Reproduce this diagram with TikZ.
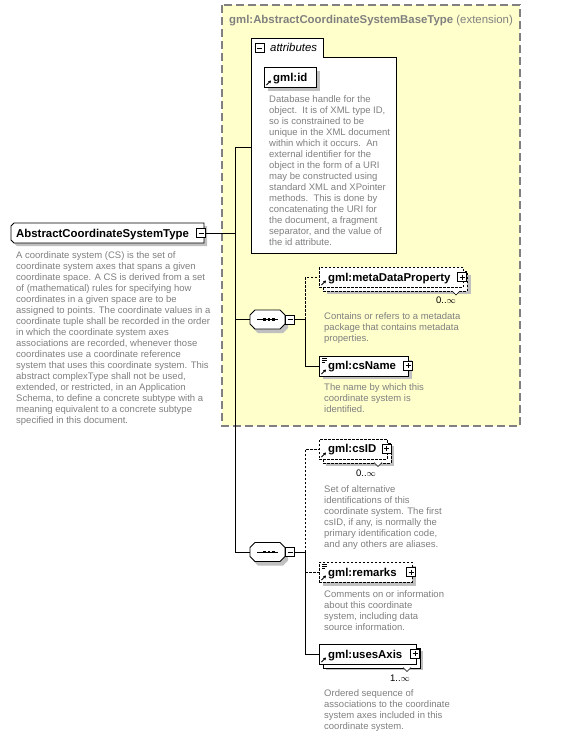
\documentclass[tikz,border=0pt]{standalone}
\usepackage{fontspec}
\setmainfont{Liberation Sans}
\usetikzlibrary{arrows.meta,calc}
\definecolor{ybg}{RGB}{255,255,204}
\definecolor{dgray}{RGB}{128,128,128}
\definecolor{descc}{RGB}{128,128,128}
\definecolor{shadowc}{RGB}{192,192,192}
\newcommand\lblfont{\bfseries\fontsize{11.4}{13}\selectfont}
\newcommand\descfont{\fontsize{9.5}{11}\selectfont}
\tikzset{
  box/.style={draw=black, fill=white, line width=0.8pt, inner sep=0, anchor=north west},
  optbox/.style={box, dash pattern=on 2.5pt off 1.5pt},
  lbl/.style={anchor=base west, inner sep=0, font=\lblfont},
  desc/.style={anchor=north west, inner sep=0, align=left, text=descc, font=\descfont},
  mult/.style={inner sep=0, font=\descfont},
  conn/.style={line width=0.8pt},
  optconn/.style={conn, dash pattern=on 2.5pt off 1.5pt},
  plusbox/.style={draw, fill=white, line width=0.6pt, minimum size=9pt, inner sep=0,
    path picture={\draw[line width=0.6pt] ([xshift=2pt]path picture bounding box.west) -- ([xshift=-2pt]path picture bounding box.east)
      ([yshift=-2pt]path picture bounding box.north) -- ([yshift=2pt]path picture bounding box.south);}},
  minusbox/.style={draw, fill=white, line width=0.6pt, minimum size=9pt, inner sep=0,
    path picture={\draw[line width=0.6pt] ([xshift=2pt]path picture bounding box.west) -- ([xshift=-2pt]path picture bounding box.east);}},
  anchorbox/.style={draw=none, inner sep=0},
  outline/.style={draw=black, fill=white, line width=0.8pt},
  refarrow/.style={line width=0.9pt, -{Triangle[length=2.6pt,width=3pt]}},
  notch/.style={draw, fill=white, line width=0.6pt},
}
\begin{document}
\begin{tikzpicture}[x=1pt,y=-1pt]
\useasboundingbox (0,0) rectangle (563,737);
\fill[white] (0,0) rectangle (563,737);

% extension box
\draw[dgray, fill=ybg, line width=1.1pt, dash pattern=on 8pt off 4pt] (222,5) rectangle (520,426);
\node[lbl, text=dgray] (title) at (229,23) {gml:AbstractCoordinateSystemBaseType \mdseries(extension)};

% main node
\fill[shadowc] (14,229) -- (17,226) -- (207,226) -- (207,246) -- (17,246) -- (14,243) -- cycle;
\draw[outline] (11,226) -- (14,223) -- (204,223) -- (204,243) -- (14,243) -- (11,240) -- cycle;
\node[anchorbox, minimum width=193pt, minimum height=20pt] (main) at (107.5,233) {};
\node[lbl] (mainlbl) at (16,237) {AbstractCoordinateSystemType};
\node[minusbox] (mainm) at (201,233) {};
\node[desc] (maindesc) at (16,251.5) {A coordinate system (CS) is the set of\\
coordinate system axes that spans a given\\
coordinate space. A CS is derived from a set\\
of (mathematical) rules for specifying how\\
coordinates in a given space are to be\\
assigned to points. The coordinate values in a\\
coordinate tuple shall be recorded in the order\\
in which the coordinate system axes\\
associations are recorded, whenever those\\
coordinates use a coordinate reference\\
system that uses this coordinate system. This\\
abstract complexType shall not be used,\\
extended, or restricted, in an Application\\
Schema, to define a concrete subtype with a\\
meaning equivalent to a concrete subtype\\
specified in this document.};

% trunk
\coordinate (tA) at (235,147);
\coordinate (tM) at (235,233);
\coordinate (tS1) at (235,319.5);
\coordinate (tS2) at (235,552);
\draw[conn] (mainm.east) -- (tM);
\draw[conn] (tA) -- (tS2);

% attributes
\node[box, minimum width=72pt, minimum height=20pt] (attrtab) at (251,38) {};
\node[box, minimum width=145pt, minimum height=196pt] (attr) at (251,57) {};
\draw[white, line width=1pt] (252,57) -- (322.6,57);
\node[minusbox] (attrm) at (259.5,48) {};
\node[anchor=base west, inner sep=0, font=\itshape\fontsize{11.4}{13}\selectfont] (attrlbl) at (270,51.5) {attributes};
\draw[conn] (tA) -- (attr.west |- tA);

% gml:id
\fill[shadowc] (268,71) rectangle (320,91);
\node[box, minimum width=52pt, minimum height=20pt] (gid) at (264,67) {};
\node[lbl] (gidlbl) at (273,81.5) {gml:id};
\draw[refarrow] (266.5,85) -- (271,80.5);
\node[desc] (giddesc) at (269,95.5) {Database handle for the\\
object.\ \ It is of XML type ID,\\
so is constrained to be\\
unique in the XML document\\
within which it occurs.\ \ An\\
external identifier for the\\
object in the form of a URI\\
may be constructed using\\
standard XML and XPointer\\
methods.\ \ This is done by\\
concatenating the URI for\\
the document, a fragment\\
separator, and the value of\\
the id attribute.};

% sequence 1
\fill[shadowc] (253,319) -- (258,314) -- (283,314) -- (288,319) -- (288,328) -- (283,333) -- (258,333) -- (253,328) -- cycle;
\draw[outline] (250,315) -- (255,310) -- (280,310) -- (285,315) -- (285,324) -- (280,329) -- (255,329) -- (250,324) -- cycle;
\node[anchorbox, minimum width=35pt, minimum height=19pt] (seq1) at (267.5,319.5) {};
\draw[line width=1pt] (257,319.5) -- (278,319.5);
\foreach \dx in {-4.5,0,4.5} \fill ($(seq1.center)+(\dx,-1.3)$) rectangle +(2.6,2.6);
\node[minusbox] (seq1m) at (290,319.5) {};
\coordinate (s1) at (305,319.5);
\draw[conn] (tS1) -- (seq1.west);
\draw[conn] (seq1m.east) -- (s1);

% metaDataProperty
\fill[shadowc] (327,275) rectangle (471,294);
\node[optbox, minimum width=144pt, minimum height=20pt] (mdpback) at (323,271) {};
\node[optbox, minimum width=144pt, minimum height=20pt] (mdp) at (319,267) {};
\node[lbl] (mdplbl) at (328,281) {gml:metaDataProperty};
\draw[refarrow] (321.5,285) -- (326,280.5);
\node[plusbox] (mdpp) at (462,277) {};
\draw[notch] (452,291) -- (456,295) -- (460,291);
\node[mult] (mdpm) at (446,300) {0..$\infty$};
\node[desc] (mdpdesc) at (324,312) {Contains or refers to a metadata\\
package that contains metadata\\
properties.};
\draw[optconn] (s1) -- (s1 |- mdp.west) -- (mdp.west);

% csName
\fill[shadowc] (323,360) rectangle (412,379);
\node[box, minimum width=89pt, minimum height=19.5pt] (csn) at (319,356) {};
\node[lbl] (csnlbl) at (328,369.5) {gml:csName};
\draw[refarrow] (321.5,374) -- (326,369.5);
\draw[line width=0.6pt] (322,358.5) -- (327,358.5) (322,360.5) -- (327,360.5) (322,362.5) -- (325,362.5);
\node[plusbox] (csnp) at (408,365.5) {};
\node[desc] (csndesc) at (324,383.5) {The name by which this\\
coordinate system is\\
identified.};
\draw[conn] (s1) -- (s1 |- csn.west) -- (csn.west);

% sequence 2
\fill[shadowc] (253,551.5) -- (258,546.5) -- (283,546.5) -- (288,551.5) -- (288,560.5) -- (283,565.5) -- (258,565.5) -- (253,560.5) -- cycle;
\draw[outline] (250,547.5) -- (255,542.5) -- (280,542.5) -- (285,547.5) -- (285,556.5) -- (280,561.5) -- (255,561.5) -- (250,556.5) -- cycle;
\node[anchorbox, minimum width=35pt, minimum height=19pt] (seq2) at (267.5,552) {};
\draw[line width=1pt] (257,552) -- (278,552);
\foreach \dx in {-4.5,0,4.5} \fill ($(seq2.center)+(\dx,-1.3)$) rectangle +(2.6,2.6);
\node[minusbox] (seq2m) at (290,552) {};
\coordinate (s2) at (305,552);
\draw[conn] (tS2) -- (seq2.west);
\draw[conn] (seq2m.east) -- (s2);

% csID
\fill[shadowc] (326,446) rectangle (394,466);
\node[optbox, minimum width=68pt, minimum height=19.5pt] (csidback) at (323,443) {};
\node[optbox, minimum width=68pt, minimum height=19.5pt] (csid) at (319,439) {};
\node[lbl] (csidlbl) at (328,452.5) {gml:csID};
\draw[refarrow] (321.5,457) -- (326,452.5);
\node[plusbox] (csidp) at (386.5,448.5) {};
\draw[notch] (374,462.5) -- (378,466.5) -- (382,462.5);
\node[mult] (csidm) at (366,473) {0..$\infty$};
\node[desc] (csiddesc) at (324,485.5) {Set of alternative\\
identifications of this\\
coordinate system. The first\\
csID, if any, is normally the\\
primary identification code,\\
and any others are aliases.};
\draw[optconn] (s2) -- (s2 |- csid.west) -- (csid.west);

% remarks
\fill[shadowc] (323,566) rectangle (416,586);
\node[optbox, minimum width=93pt, minimum height=20pt] (rem) at (319,562) {};
\node[lbl] (remlbl) at (328,576) {gml:remarks};
\draw[refarrow] (321.5,580) -- (326,575.5);
\draw[line width=0.6pt] (322,564.5) -- (327,564.5) (322,566.5) -- (327,566.5) (322,568.5) -- (325,568.5);
\node[plusbox] (remp) at (411,572) {};
\node[desc] (remdesc) at (324,590.5) {Comments on or information\\
about this coordinate\\
system, including data\\
source information.};
\draw[optconn] (s2 |- rem.west) -- (rem.west);

% usesAxis
\fill[shadowc] (326,651) rectangle (423,670);
\node[box, minimum width=97pt, minimum height=19.5pt] (uaback) at (323,648) {};
\node[box, minimum width=97pt, minimum height=19.5pt] (ua) at (319,644) {};
\node[lbl] (ualbl) at (328,658) {gml:usesAxis};
\draw[refarrow] (321.5,662) -- (326,657.5);
\node[plusbox] (uap) at (415,653.5) {};
\draw[notch] (403,667.5) -- (407,671.5) -- (411,667.5);
\node[mult] (uam) at (400,678) {1..$\infty$};
\node[desc] (uadesc) at (324,689.5) {Ordered sequence of\\
associations to the coordinate\\
system axes included in this\\
coordinate system.};
\draw[conn] (s2) -- (s2 |- ua.west) -- (ua.west);
\end{tikzpicture}
\end{document}
